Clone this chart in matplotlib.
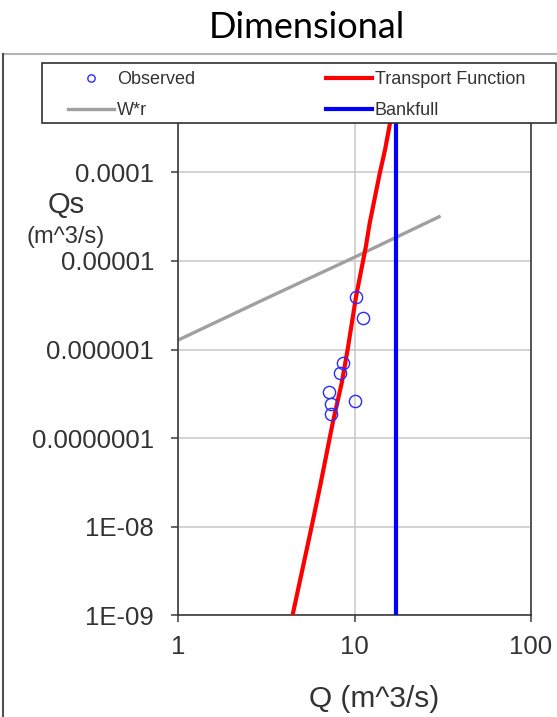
import matplotlib
matplotlib.use('Agg')
import matplotlib.pyplot as plt
from matplotlib.patches import Rectangle
from matplotlib.lines import Line2D
from matplotlib.ticker import NullLocator

# observed points
q_obs = [10.2, 11.2, 8.57, 8.27, 7.14, 7.33, 7.33, 10.1]
qs_obs = [3.94e-6, 2.25e-6, 6.97e-7, 5.46e-7, 3.28e-7, 2.42e-7, 1.87e-7, 2.62e-7]

# transport function
q_tf = [4.45, 5.71, 6.37, 7.52, 8.46, 9.15, 10.2, 11.6, 12.2, 13.95, 14.9, 15.9, 16.5]
qs_tf = [1.0e-9, 1.0e-8, 2.82e-8, 1.48e-7, 4.18e-7, 1.01e-6, 3.94e-6,
         1.45e-5, 2.68e-5, 1.0e-4, 1.79e-4, 3.57e-4, 5.0e-4]

# W*r line
q_wr = [1, 3, 10, 30.2]
qs_wr = [1.28e-6, 3.6e-6, 1.1e-5, 3.15e-5]

q_bankfull = 17.2

xticks = [1, 10, 100]
xlabels = ['1', '10', '100']
yticks = [1e-9, 1e-8, 1e-7, 1e-6, 1e-5, 1e-4]
ylabels = ['1E-09', '1E-08', '0.0000001', '0.000001', '0.00001', '0.0001']

W, H = 557, 717
fig = plt.figure(figsize=(W / 100, H / 100), dpi=100)
ax = fig.add_axes([178.3 / W, 1 - 615.3 / H, (530.7 - 178.3) / W, (615.3 - 83.7) / H])

txt = '#333333'
ax.plot(q_wr, qs_wr, color='#a0a0a0', lw=2.4, label='W*r', zorder=2)
ax.plot(q_tf, qs_tf, color='#ff0000', lw=3, label='Transport Function', zorder=3)
ax.axvline(q_bankfull, color='#0000ff', lw=3, label='Bankfull', zorder=4)
ax.plot(q_obs, qs_obs, 'o', mfc='none', mec='#2a2aff', ms=8.8, mew=1.0,
        label='Observed', zorder=5)

ax.set_xscale('log')
ax.set_yscale('log')
ax.set_xlim(1, 100)
ax.set_ylim(1e-9, 1e-3)
ax.set_xticks(xticks)
ax.set_xticklabels(xlabels)
ax.set_yticks(yticks)
ax.set_yticklabels(ylabels)
ax.xaxis.set_minor_locator(NullLocator())
ax.yaxis.set_minor_locator(NullLocator())
ax.grid(True, which='major', color='#c8c8c8', lw=1.1)
ax.set_axisbelow(True)
for s in ax.spines.values():
    s.set_color('#3a3a3a')
    s.set_linewidth(1.2)
ax.tick_params(direction='out', length=5, width=1.1, color='#3a3a3a',
               labelcolor=txt, labelsize=18.5)
ax.tick_params(axis='y', pad=12.5)
ax.tick_params(axis='x', pad=9)
for lab in ax.get_xticklabels() + ax.get_yticklabels():
    lab.set_fontfamily('Liberation Sans')

fig.text(307 / W, 1 - 38.5 / H, 'Dimensional', ha='center', va='baseline',
         fontsize=26, family='Lato', color='black')
fig.text(66 / W, 1 - 205 / H, 'Qs', ha='center', va='center',
         fontsize=21, family='Liberation Sans', color=txt)
fig.text(66 / W, 1 - 236.7 / H, '(m^3/s)', ha='center', va='center',
         fontsize=17, family='Liberation Sans', color=txt)
fig.text(374 / W, 1 - 707 / H, 'Q (m^3/s)', ha='center', va='baseline',
         fontsize=21.5, family='Liberation Sans', color=txt)

# outer chart frame
fig.add_artist(Line2D([3 / W, 1], [1 - 54 / H, 1 - 54 / H], transform=fig.transFigure,
                      color='#b4b4b4', lw=1.5))
fig.add_artist(Line2D([3 / W, 3 / W], [0, 1 - 54 / H], transform=fig.transFigure,
                      color='#505050', lw=1.5))

# legend box
box = Rectangle((42 / W, 1 - 123 / H), (556 - 42) / W, (123 - 63) / H,
                transform=fig.transFigure, facecolor='white', edgecolor='#303030',
                lw=1.2, zorder=4)
fig.add_artist(box)

h, l = ax.get_legend_handles_labels()
order = [3, 0, 1, 2]
leg = fig.legend([h[i] for i in order], [l[i] for i in order], ncol=2,
                 loc='upper left', bbox_to_anchor=(68 / W, 1 - 71 / H),
                 frameon=False, borderpad=0, borderaxespad=0,
                 handlelength=2.55, handletextpad=0.15, columnspacing=7.25,
                 labelspacing=0.8, markerscale=0.6,
                 prop={'family': 'Liberation Sans', 'size': 13})
leg.set_zorder(6)
for t in leg.get_texts():
    t.set_color(txt)

fig.savefig('out.png', dpi=100)
